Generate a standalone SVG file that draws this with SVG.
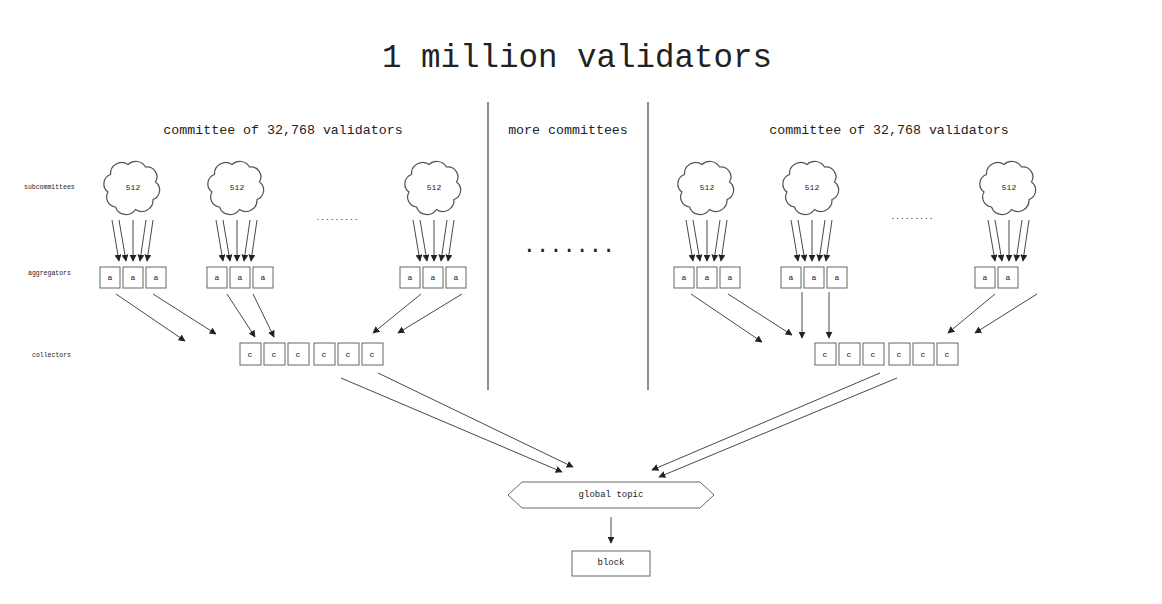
<svg xmlns="http://www.w3.org/2000/svg" width="1162" height="604" viewBox="0 0 1162 604">
<style>
text{font-family:"Liberation Mono","DejaVu Sans Mono",monospace;fill:#222;text-anchor:middle;dominant-baseline:central}
.t{font-size:32.5px}.h{font-size:13.3px}.s{font-size:6.5px;text-anchor:start}.b{font-size:8px}.n{font-size:9px}
.bx{fill:#fff;stroke:#666;stroke-width:1}
.cl{fill:#fff;stroke:#555;stroke-width:1;vector-effect:non-scaling-stroke}
.ar{stroke:#333;stroke-width:0.9;fill:none;marker-end:url(#m)}
.ln{stroke:#444;stroke-width:1.2}
</style>
<defs>
<marker id="m" viewBox="0 0 10 10" refX="9" refY="5" markerWidth="7" markerHeight="7" orient="auto" markerUnits="userSpaceOnUse"><path d="M0,0L10,5L0,10z" fill="#222"/></marker>
<path id="cloud" d="M-14,16a8,8 0 0 1 -6,-12a8,8 0 0 1 2,-14a9,9 0 0 1 14,-8a9,9 0 0 1 14,2a8,8 0 0 1 8,12a8,8 0 0 1 -2,14a9,9 0 0 1 -14,8a9,9 0 0 1 -16,-2z"/>
</defs>
<rect width="1162" height="604" fill="#fff"/>
<text class="t" x="577" y="58">1 million validators</text>
<line class="ln" x1="488" y1="102" x2="488" y2="390"/>
<line class="ln" x1="648" y1="102" x2="648" y2="390"/>
<text class="h" x="283" y="130">committee of 32,768 validators</text>
<text class="h" x="568" y="130">more committees</text>
<text class="h" x="889" y="130">committee of 32,768 validators</text>
<text class="s" x="24" y="187">subcommittees</text>
<text class="s" x="28" y="273">aggregators</text>
<text class="s" x="32" y="355">collectors</text>
<text class="b" x="337" y="217">.........</text>
<text class="b" x="912" y="216">.........</text>
<text style="font-size:22px" x="569" y="246">.......</text>
<g id="clouds">
<g id="sc1" transform="translate(133,187) scale(1.25)"><use href="#cloud" class="cl"/></g>
<g id="sc2" transform="translate(237,187) scale(1.25)"><use href="#cloud" class="cl"/></g>
<g id="sc3" transform="translate(434,187) scale(1.25)"><use href="#cloud" class="cl"/></g>
<g id="sc4" transform="translate(707,187) scale(1.25)"><use href="#cloud" class="cl"/></g>
<g id="sc5" transform="translate(812,187) scale(1.25)"><use href="#cloud" class="cl"/></g>
<g id="sc6" transform="translate(1009,187) scale(1.25)"><use href="#cloud" class="cl"/></g>
<text class="b" x="133" y="187">512</text><text class="b" x="237" y="187">512</text><text class="b" x="434" y="187">512</text>
<text class="b" x="707" y="187">512</text><text class="b" x="812" y="187">512</text><text class="b" x="1009" y="187">512</text>
</g>
<g id="connectors">
<g transform="translate(0,0)"><line class="ar" x1="112" y1="220" x2="119" y2="261"/><line class="ar" x1="119" y1="220" x2="126" y2="261"/><line class="ar" x1="133" y1="220" x2="133" y2="261"/><line class="ar" x1="146" y1="220" x2="140" y2="261"/><line class="ar" x1="153" y1="220" x2="147" y2="261"/></g>
<g transform="translate(104,0)"><line class="ar" x1="112" y1="220" x2="119" y2="261"/><line class="ar" x1="119" y1="220" x2="126" y2="261"/><line class="ar" x1="133" y1="220" x2="133" y2="261"/><line class="ar" x1="146" y1="220" x2="140" y2="261"/><line class="ar" x1="153" y1="220" x2="147" y2="261"/></g>
<g transform="translate(301,0)"><line class="ar" x1="112" y1="220" x2="119" y2="261"/><line class="ar" x1="119" y1="220" x2="126" y2="261"/><line class="ar" x1="133" y1="220" x2="133" y2="261"/><line class="ar" x1="146" y1="220" x2="140" y2="261"/><line class="ar" x1="153" y1="220" x2="147" y2="261"/></g>
<g transform="translate(574,0)"><line class="ar" x1="112" y1="220" x2="119" y2="261"/><line class="ar" x1="119" y1="220" x2="126" y2="261"/><line class="ar" x1="133" y1="220" x2="133" y2="261"/><line class="ar" x1="146" y1="220" x2="140" y2="261"/><line class="ar" x1="153" y1="220" x2="147" y2="261"/></g>
<g transform="translate(679,0)"><line class="ar" x1="112" y1="220" x2="119" y2="261"/><line class="ar" x1="119" y1="220" x2="126" y2="261"/><line class="ar" x1="133" y1="220" x2="133" y2="261"/><line class="ar" x1="146" y1="220" x2="140" y2="261"/><line class="ar" x1="153" y1="220" x2="147" y2="261"/></g>
<g transform="translate(876,0)"><line class="ar" x1="112" y1="220" x2="119" y2="261"/><line class="ar" x1="119" y1="220" x2="126" y2="261"/><line class="ar" x1="133" y1="220" x2="133" y2="261"/><line class="ar" x1="146" y1="220" x2="140" y2="261"/><line class="ar" x1="153" y1="220" x2="147" y2="261"/></g>
<line class="ar" x1="116" y1="294" x2="185" y2="341"/><line class="ar" x1="153" y1="294" x2="216" y2="334"/>
<line class="ar" x1="227" y1="294" x2="255" y2="337"/><line class="ar" x1="253" y1="294" x2="274" y2="337"/>
<line class="ar" x1="421" y1="294" x2="373" y2="333"/><line class="ar" x1="462" y1="294" x2="398" y2="333"/>
<line class="ar" x1="691" y1="294" x2="762" y2="342"/><line class="ar" x1="728" y1="294" x2="792" y2="335"/>
<line class="ar" x1="802" y1="292" x2="802" y2="338"/><line class="ar" x1="829" y1="292" x2="829" y2="338"/>
<line class="ar" x1="995" y1="294" x2="948" y2="333"/><line class="ar" x1="1037" y1="294" x2="975" y2="333"/>
<line class="ar" x1="341" y1="378" x2="562" y2="472"/><line class="ar" x1="378" y1="373" x2="573" y2="467"/>
<line class="ar" x1="880" y1="373" x2="652" y2="470"/><line class="ar" x1="897" y1="378" x2="659" y2="477"/>
<line class="ar" x1="611" y1="517" x2="611" y2="543"/>
</g>
<g id="aggregators">
<g id="ag1"><rect class="bx" x="100" y="267" width="20" height="21"/><rect class="bx" x="123" y="267" width="20" height="21"/><rect class="bx" x="146" y="267" width="20" height="21"/><text class="b" x="110" y="277">a</text><text class="b" x="133" y="277">a</text><text class="b" x="156" y="277">a</text></g>
<g id="ag2"><rect class="bx" x="207" y="267" width="20" height="21"/><rect class="bx" x="230" y="267" width="20" height="21"/><rect class="bx" x="253" y="267" width="20" height="21"/><text class="b" x="217" y="277">a</text><text class="b" x="240" y="277">a</text><text class="b" x="263" y="277">a</text></g>
<g id="ag3"><rect class="bx" x="400" y="267" width="20" height="21"/><rect class="bx" x="423" y="267" width="20" height="21"/><rect class="bx" x="446" y="267" width="20" height="21"/><text class="b" x="410" y="277">a</text><text class="b" x="433" y="277">a</text><text class="b" x="456" y="277">a</text></g>
<g id="ag4"><rect class="bx" x="674" y="267" width="20" height="21"/><rect class="bx" x="697" y="267" width="20" height="21"/><rect class="bx" x="720" y="267" width="20" height="21"/><text class="b" x="684" y="277">a</text><text class="b" x="707" y="277">a</text><text class="b" x="730" y="277">a</text></g>
<g id="ag5"><rect class="bx" x="781" y="267" width="20" height="21"/><rect class="bx" x="804" y="267" width="20" height="21"/><rect class="bx" x="827" y="267" width="20" height="21"/><text class="b" x="791" y="277">a</text><text class="b" x="814" y="277">a</text><text class="b" x="837" y="277">a</text></g>
<g id="ag6"><rect class="bx" x="975" y="267" width="20" height="21"/><rect class="bx" x="998" y="267" width="20" height="21"/><text class="b" x="985" y="277">a</text><text class="b" x="1008" y="277">a</text></g>
</g>
<g id="collectors">
<g id="co1"><rect class="bx" x="240" y="343" width="21" height="22"/><rect class="bx" x="264" y="343" width="21" height="22"/><rect class="bx" x="288" y="343" width="21" height="22"/><rect class="bx" x="314" y="343" width="21" height="22"/><rect class="bx" x="338" y="343" width="21" height="22"/><rect class="bx" x="362" y="343" width="21" height="22"/>
<text class="b" x="250" y="354">c</text><text class="b" x="274" y="354">c</text><text class="b" x="298" y="354">c</text><text class="b" x="324" y="354">c</text><text class="b" x="348" y="354">c</text><text class="b" x="372" y="354">c</text></g>
<g id="co2"><rect class="bx" x="815" y="343" width="21" height="22"/><rect class="bx" x="839" y="343" width="21" height="22"/><rect class="bx" x="863" y="343" width="21" height="22"/><rect class="bx" x="889" y="343" width="21" height="22"/><rect class="bx" x="913" y="343" width="21" height="22"/><rect class="bx" x="937" y="343" width="21" height="22"/>
<text class="b" x="825" y="354">c</text><text class="b" x="849" y="354">c</text><text class="b" x="873" y="354">c</text><text class="b" x="899" y="354">c</text><text class="b" x="923" y="354">c</text><text class="b" x="947" y="354">c</text></g>
</g>
<g id="global"><polygon class="bx" points="508,495 522,482 700,482 714,495 700,508 522,508"/><text class="n" x="611" y="495">global topic</text></g>
<g id="block"><rect class="bx" x="572" y="551" width="78" height="25"/><text class="n" x="611" y="563">block</text></g>
</svg>
